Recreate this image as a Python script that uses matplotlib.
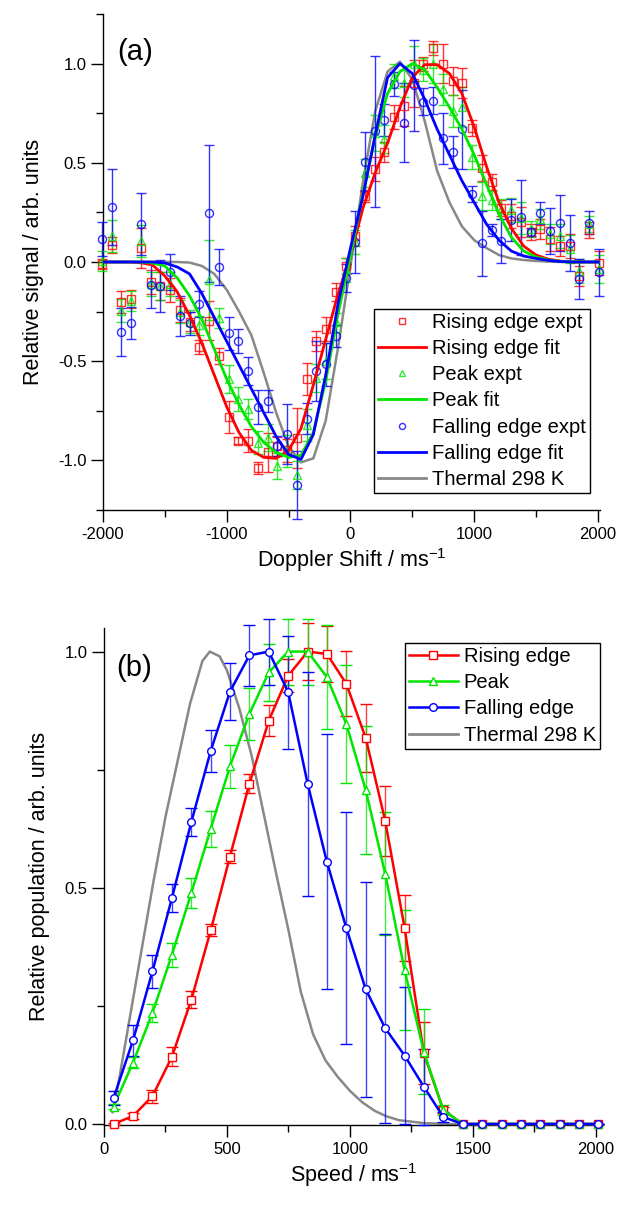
"""Doppler profiles (a) and speed distributions (b), rising / peak / falling edge."""
import matplotlib

matplotlib.use("Agg")
import matplotlib.pyplot as plt
from matplotlib.ticker import FormatStrFormatter, MultipleLocator

plt.rcParams["font.family"] = ["Liberation Sans", "DejaVu Sans"]
plt.rcParams["mathtext.fontset"] = "custom"
plt.rcParams["mathtext.rm"] = "Liberation Sans"
plt.rcParams["mathtext.it"] = "Liberation Sans:italic"
plt.rcParams["axes.unicode_minus"] = False

RED = "#ff0000"
GREEN = "#00e600"
BLUE = "#0000ff"
GREY = "#888888"

# ---- panel (a): Doppler profiles ----
dop_shift = [-2007, -1928, -1850, -1771, -1692, -1613, -1535, -1456, -1377, -1299,
             -1220, -1141, -1062, -984, -905, -826, -748, -669, -590, -511,
             -433, -354, -275, -197, -118, -39,
             39, 118, 197, 275, 354, 433, 511, 590, 669, 748,
             826, 905, 984, 1062, 1141, 1220, 1299, 1377, 1456, 1535,
             1613, 1692, 1771, 1850, 1928, 2007]

rise_expt = [-0.01, 0.087, -0.2, -0.185, 0.07, -0.1, -0.12, -0.14, -0.24, -0.3,
             -0.43, -0.295, -0.474, -0.78, -0.9, -0.9, -1.037, -0.96, -0.93, -0.95,
             -0.886, -0.59, -0.4, -0.337, -0.15, -0.02,
             0.13, 0.333, 0.47, 0.554, 0.73, 0.785, 0.9, 1.0, 1.08, 1.0,
             0.911, 0.903, 0.677, 0.472, 0.404, 0.27, 0.233, 0.2, 0.149, 0.166,
             0.116, 0.082, 0.082, -0.07, 0.16, -0.005]
rise_err = [0.025, 0.04, 0.055, 0.045, 0.1, 0.06, 0.07, 0.06, 0.06, 0.05,
            0.035, 0.1, 0.04, 0.08, 0.02, 0.06, 0.03, 0.1, 0.05, 0.06,
            0.15, 0.08, 0.05, 0.06, 0.045, 0.04,
            0.05, 0.03, 0.06, 0.05, 0.06, 0.1, 0.12, 0.035, 0.035, 0.1,
            0.07, 0.075, 0.04, 0.065, 0.04, 0.04, 0.06, 0.075, 0.04, 0.05,
            0.06, 0.05, 0.06, 0.05, 0.04, 0.06]

peak_expt = [0.007, 0.132, -0.245, -0.195, 0.107, -0.11, -0.12, -0.11, -0.25, -0.3,
             -0.32, -0.09, -0.283, -0.588, -0.69, -0.74, -0.91, -0.885, -1.03, -0.953,
             -1.072, -0.82, -0.585, -0.5, -0.305, -0.04,
             0.1, 0.45, 0.65, 0.62, 0.936, 0.9, 1.0, 0.97, 1.0, 0.87,
             0.76, 0.78, 0.53, 0.333, 0.31, 0.266, 0.263, 0.22, 0.166, 0.216,
             0.14, 0.132, 0.065, -0.044, 0.19, -0.035]
peak_err = [0.05, 0.08, 0.06, 0.05, 0.08, 0.06, 0.07, 0.06, 0.06, 0.06,
            0.05, 0.2, 0.05, 0.07, 0.06, 0.05, 0.06, 0.07, 0.065, 0.08,
            0.07, 0.08, 0.07, 0.09, 0.05, 0.06,
            0.06, 0.07, 0.09, 0.07, 0.06, 0.07, 0.09, 0.06, 0.1, 0.08,
            0.08, 0.1, 0.06, 0.07, 0.05, 0.05, 0.06, 0.08, 0.04, 0.05,
            0.05, 0.06, 0.07, 0.06, 0.04, 0.07]

fall_expt = [0.116, 0.278, -0.353, -0.308, 0.192, -0.116, -0.122, -0.05, -0.271, -0.31,
             -0.211, 0.245, -0.027, -0.36, -0.4, -0.548, -0.73, -0.7, -0.926, -0.866,
             -1.124, -0.789, -0.549, -0.516, -0.372, -0.08,
             0.102, 0.506, 0.658, 0.717, 0.896, 0.702, 0.891, 0.809, 0.814, 0.623,
             0.553, 0.668, 0.342, 0.094, 0.161, 0.107, 0.213, 0.225, 0.149, 0.246,
             0.156, 0.196, 0.095, -0.085, 0.199, -0.052]
fall_err = [0.085, 0.19, 0.12, 0.08, 0.155, 0.115, 0.13, 0.09, 0.1, 0.06,
            0.065, 0.345, 0.09, 0.085, 0.06, 0.07, 0.085, 0.055, 0.05, 0.15,
            0.17, 0.08, 0.15, 0.11, 0.055, 0.07,
            0.155, 0.15, 0.38, 0.08, 0.06, 0.2, 0.23, 0.07, 0.07, 0.13,
            0.08, 0.2, 0.04, 0.165, 0.03, 0.11, 0.105, 0.19, 0.02, 0.055,
            0.115, 0.14, 0.14, 0.1, 0.06, 0.12]

fit_shift = [-2000, -1900, -1800, -1700, -1600, -1500, -1400, -1300, -1200, -1100,
             -1000, -900, -800, -700, -600, -500, -400, -300, -200, -100,
             0, 100, 200, 300, 400, 500, 600, 700, 800, 900,
             1000, 1100, 1200, 1300, 1400, 1500, 1600, 1700, 1800, 1900, 2000]
rise_fit = [0, 0, 0, -0.003, -0.015, -0.07, -0.15, -0.27, -0.41, -0.57,
            -0.73, -0.86, -0.95, -0.985, -0.99, -0.95, -0.84, -0.62, -0.39, -0.16,
            0.03, 0.27, 0.45, 0.6, 0.78, 0.93, 0.995, 0.995, 0.95, 0.85,
            0.68, 0.48, 0.3, 0.17, 0.08, 0.035, 0.014, 0.004, 0, 0, 0]
peak_fit = [0, 0, 0, 0, -0.005, -0.02, -0.08, -0.17, -0.29, -0.44,
            -0.59, -0.72, -0.83, -0.91, -0.96, -0.985, -0.975, -0.86, -0.6, -0.26,
            0.03, 0.34, 0.63, 0.85, 0.96, 1.0, 0.97, 0.88, 0.78, 0.67,
            0.54, 0.39, 0.24, 0.125, 0.055, 0.025, 0.01, 0.003, 0, 0, 0]
fall_fit = [0, 0, 0, 0, 0, -0.005, -0.025, -0.06, -0.16, -0.28,
            -0.4, -0.52, -0.64, -0.76, -0.88, -0.97, -0.995, -0.87, -0.57, -0.21,
            0.07, 0.33, 0.64, 0.93, 1.0, 0.95, 0.82, 0.67, 0.54, 0.41,
            0.3, 0.19, 0.11, 0.055, 0.03, 0.018, 0.008, 0.002, 0, 0, 0]
thermal_fit = [0, 0, 0, 0, 0, 0, 0, -0.003, -0.02, -0.06,
               -0.14, -0.25, -0.37, -0.56, -0.76, -0.93, -1.01, -0.99, -0.8, -0.43,
               -0.02, 0.4, 0.76, 0.96, 1.01, 0.92, 0.71, 0.46, 0.3, 0.18,
               0.11, 0.07, 0.035, 0.018, 0.01, 0.005, 0.002, 0, 0, 0, 0]

# ---- panel (b): speed distributions ----
speed = [39, 118, 197, 276, 355, 434, 512, 591, 670, 749, 828, 906, 985,
         1064, 1143, 1222, 1300, 1379, 1458, 1537, 1616, 1694, 1773, 1852, 1931, 2009]
rise_pop = [0.0, 0.017, 0.059, 0.142, 0.263, 0.41, 0.566, 0.72, 0.854, 0.949, 1.0, 0.995, 0.932,
            0.817, 0.642, 0.415, 0.15, 0.03, 0, 0, 0, 0, 0, 0, 0, 0]
rise_pop_err = [0.003, 0.006, 0.014, 0.02, 0.018, 0.013, 0.014, 0.02, 0.033, 0.035, 0.06, 0.06, 0.069,
                0.072, 0.074, 0.07, 0.065, 0.007, 0, 0, 0, 0, 0, 0, 0, 0]
peak_pop = [0.037, 0.13, 0.235, 0.358, 0.489, 0.625, 0.757, 0.868, 0.956, 1.0, 1.0, 0.946, 0.847,
            0.707, 0.53, 0.326, 0.153, 0.03, 0, 0, 0, 0, 0, 0, 0, 0]
peak_pop_err = [0.005, 0.012, 0.019, 0.025, 0.031, 0.038, 0.046, 0.055, 0.06, 0.07, 0.07, 0.11, 0.125,
                0.135, 0.13, 0.127, 0.09, 0.01, 0, 0, 0, 0, 0, 0, 0, 0]
fall_pop = [0.055, 0.177, 0.323, 0.478, 0.639, 0.79, 0.915, 0.992, 1.0, 0.914, 0.72, 0.555, 0.415,
            0.285, 0.203, 0.145, 0.079, 0.015, 0, 0, 0, 0, 0, 0, 0, 0]
fall_pop_err = [0.015, 0.032, 0.035, 0.03, 0.03, 0.045, 0.06, 0.065, 0.07, 0.12, 0.237, 0.27, 0.245,
                0.227, 0.2, 0.145, 0.08, 0.01, 0, 0, 0, 0, 0, 0, 0, 0]
thermal_speed = [35, 60, 80, 100, 150, 200, 250, 300, 350, 400, 430, 470, 500, 550, 600,
                 650, 700, 750, 800, 850, 900, 950, 1000, 1050, 1100, 1150, 1200, 1300, 1400, 2010]
thermal_pop = [0.025, 0.09, 0.15, 0.21, 0.36, 0.51, 0.65, 0.77, 0.89, 0.98, 1.0, 0.99, 0.96, 0.88, 0.78,
               0.655, 0.53, 0.41, 0.28, 0.19, 0.135, 0.1, 0.07, 0.046, 0.028, 0.016, 0.008, 0.002, 0, 0]


def _style_axes(ax):
    for side in ("top", "right"):
        ax.spines[side].set_visible(False)
    for side in ("left", "bottom"):
        ax.spines[side].set_linewidth(1.0)
    ax.tick_params(which="major", direction="out", length=8.5, width=1.0, labelsize=12)
    ax.tick_params(which="minor", direction="out", length=5, width=1.0)
    ax.yaxis.set_major_formatter(FormatStrFormatter("%.1f"))


def _legend(ax, handles, labels, **kw):
    leg = ax.legend(handles, labels, fontsize=14.5, frameon=True, fancybox=False, framealpha=1,
                    edgecolor="black", borderaxespad=0, borderpad=0.2, labelspacing=0.36,
                    handlelength=2.4, handletextpad=0.3, numpoints=1, **kw)
    leg.get_frame().set_linewidth(1.0)
    return leg


def plot_panel_a(ax):
    ax.plot(fit_shift, thermal_fit, color=GREY, lw=1.8, zorder=2)
    ebs = []
    for vals, errs, col, mk in [
        (rise_expt, rise_err, RED, "s"),
        (peak_expt, peak_err, GREEN, "^"),
        (fall_expt, fall_err, BLUE, "o"),
    ]:
        eb = ax.errorbar(dop_shift, vals, yerr=errs, fmt=mk, ms=5.8, mfc="none", mec=col,
                         mew=1.0, ecolor=col, elinewidth=1.0, capsize=3.8, capthick=1.0,
                         alpha=0.8, zorder=3, clip_on=False)
        ebs.append(eb)
    lr, = ax.plot(fit_shift, rise_fit, color=RED, lw=2.0, zorder=4)
    lg, = ax.plot(fit_shift, peak_fit, color=GREEN, lw=2.0, zorder=4)
    lb, = ax.plot(fit_shift, fall_fit, color=BLUE, lw=2.0, zorder=4)
    lt, = ax.plot([], [], color=GREY, lw=2.0)

    ax.set_xlim(-2000, 2020)
    ax.set_ylim(-1.25, 1.25)
    ax.xaxis.set_major_locator(MultipleLocator(1000))
    ax.xaxis.set_minor_locator(MultipleLocator(500))
    ax.yaxis.set_major_locator(MultipleLocator(0.5))
    ax.yaxis.set_minor_locator(MultipleLocator(0.25))
    _style_axes(ax)
    ax.set_xlabel("Doppler Shift / ms$^{-1}$", fontsize=15.5, labelpad=3)
    ax.set_ylabel("Relative signal / arb. units", fontsize=15.5, labelpad=10)
    ax.text(0.028, 0.923, "(a)", transform=ax.transAxes, fontsize=21, va="center", ha="left")

    handles = [ebs[0][0], lr, ebs[1][0], lg, ebs[2][0], lb, lt]
    labels = ["Rising edge expt", "Rising edge fit", "Peak expt", "Peak fit",
              "Falling edge expt", "Falling edge fit", "Thermal 298 K"]
    _legend(ax, handles, labels, loc="lower right", bbox_to_anchor=(0.979, 0.034),
            markerscale=0.75)


def plot_panel_b(ax):
    ax.plot(thermal_speed, thermal_pop, color=GREY, lw=1.8, zorder=2)
    lines = []
    for vals, errs, col, mk in [
        (rise_pop, rise_pop_err, RED, "s"),
        (peak_pop, peak_pop_err, GREEN, "^"),
        (fall_pop, fall_pop_err, BLUE, "o"),
    ]:
        eb = ax.errorbar(speed, vals, yerr=errs, fmt="-" + mk, color=col, lw=1.8, ms=5.5,
                         mfc="white", mec=col, mew=1.0, ecolor=col, elinewidth=1.0,
                         capsize=4.5, capthick=1.0, zorder=3, clip_on=False)
        eb[2][0].set_alpha(0.75)
        lines.append(eb[0])
    lt, = ax.plot([], [], color=GREY, lw=2.0)

    ax.set_xlim(0, 2030)
    ax.set_ylim(-0.002, 1.05)
    ax.xaxis.set_major_locator(MultipleLocator(500))
    ax.xaxis.set_minor_locator(MultipleLocator(250))
    ax.yaxis.set_major_locator(MultipleLocator(0.5))
    ax.yaxis.set_minor_locator(MultipleLocator(0.25))
    _style_axes(ax)
    ax.set_xlabel("Speed / ms$^{-1}$", fontsize=15.5, labelpad=3)
    ax.set_ylabel("Relative population / arb. units", fontsize=15.5, labelpad=10)
    ax.text(0.024, 0.92, "(b)", transform=ax.transAxes, fontsize=21, va="center", ha="left")

    _legend(ax, lines + [lt], ["Rising edge", "Peak", "Falling edge", "Thermal 298 K"],
            loc="upper right", bbox_to_anchor=(0.993, 0.970))


fig = plt.figure(figsize=(6.2, 12.09), dpi=100)
ax_a = fig.add_axes([0.166, 0.5782, 0.8025, 0.4102])
ax_b = fig.add_axes([0.1677, 0.0695, 0.8055, 0.4111])
plot_panel_a(ax_a)
plot_panel_b(ax_b)
fig.savefig("out.png", dpi=100)
plt.close(fig)
